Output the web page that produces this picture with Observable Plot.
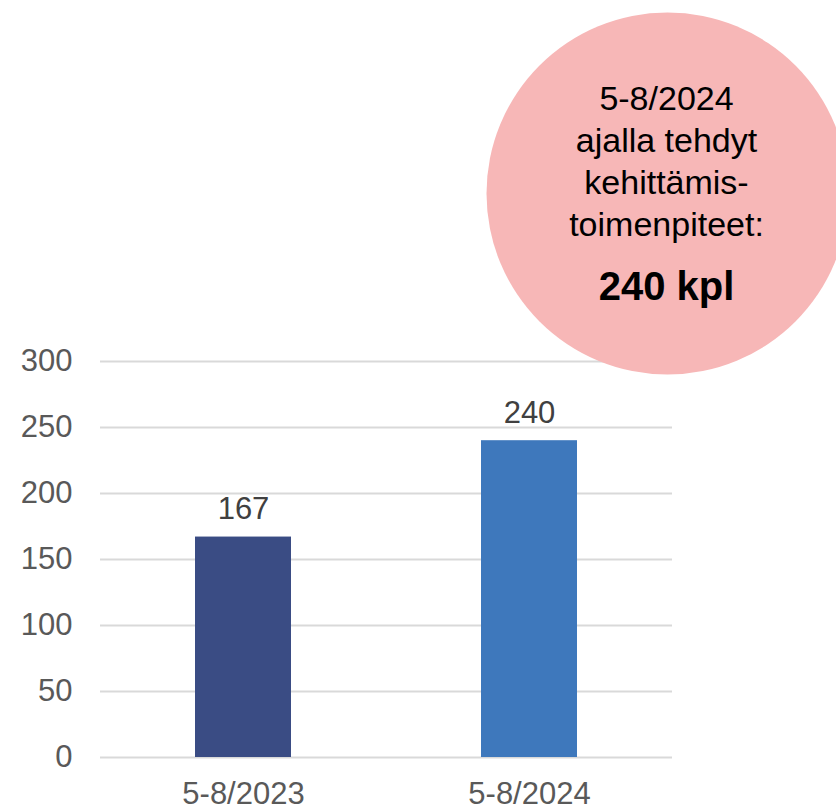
<!DOCTYPE html>
<html>
<head>
<meta charset="utf-8">
<script src="https://cdn.jsdelivr.net/npm/d3@7"></script>
<script src="https://cdn.jsdelivr.net/npm/@observablehq/plot@0.6"></script>
<style>
  html, body { margin: 0; padding: 0; background: white; overflow: hidden; }
  #chart svg { overflow: hidden; }
</style>
</head>
<body>
<div id="chart"></div>
<script>
const categories = ["5-8/2023", "5-8/2024"];
const values = [167, 240];
const barColors = ["#3A4C84", "#3E78BC"];
const yTicks = [0, 50, 100, 150, 200, 250, 300];
const calloutLines = ["5-8/2024", "ajalla tehdyt", "kehittämis-", "toimenpiteet:"];
const calloutValue = "240 kpl";

const data = categories.map((c, i) => ({category: c, value: values[i], color: barColors[i]}));
const font = "'Liberation Sans', Arial, sans-serif";

const plot = Plot.plot({
  width: 836,
  height: 812,
  marginLeft: 100,
  marginRight: 164,
  marginTop: 361,
  marginBottom: 55,
  style: {fontFamily: font, fontSize: "31px", color: "#595959", background: "white", overflow: "hidden"},
  x: {domain: categories, paddingInner: 0.664, paddingOuter: 0.332, label: null, tickSize: 0, tickPadding: 24},
  y: {domain: [0, 300], ticks: yTicks, label: null, tickSize: 0, tickPadding: 28},
  marks: [
    Plot.ruleY(yTicks, {stroke: "#D9D9D9", strokeWidth: 2}),
    Plot.barY(data, {x: "category", y: "value", fill: "color"}),
    Plot.text(data, {x: "category", y: "value", text: d => String(d.value), lineAnchor: "bottom", dy: -18, fill: "#404040", fontSize: 31}),
    Plot.dot([calloutValue], {frameAnchor: "top-right", dx: -5, dy: -168, r: 181, fill: "#F7B7B7", stroke: null}),
    Plot.text([calloutLines.join("\n")], {frameAnchor: "top-right", textAnchor: "middle", dx: -6, dy: -126, lineAnchor: "bottom", lineHeight: 1.226, fontSize: 34, fill: "#000", text: d => d}),
    Plot.text([calloutValue], {frameAnchor: "top-right", textAnchor: "middle", dx: -6, dy: -62, lineAnchor: "bottom", fontSize: 40, fontWeight: "bold", fill: "#000", text: d => d})
  ]
});
document.getElementById("chart").appendChild(plot);
</script>
</body>
</html>
